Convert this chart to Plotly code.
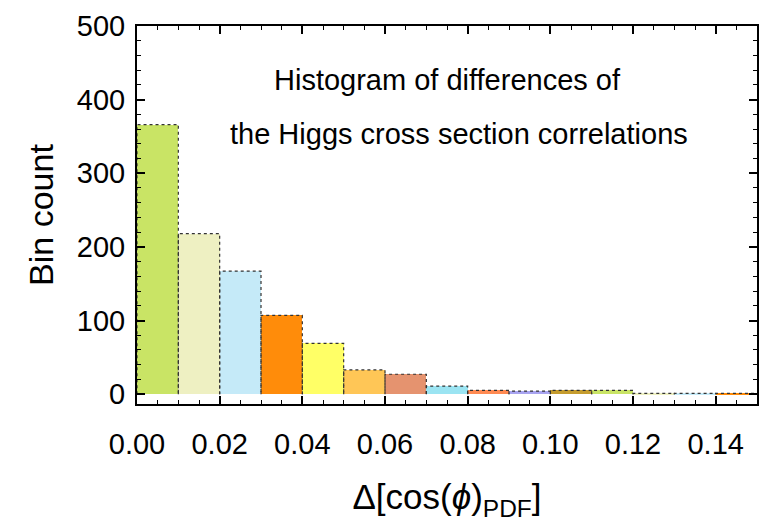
import plotly.graph_objects as go

# Data
bin_edges = [0.00, 0.01, 0.02, 0.03, 0.04, 0.05, 0.06, 0.07, 0.08, 0.09,
             0.10, 0.11, 0.12, 0.13, 0.14, 0.15]
counts = [366, 218, 167, 107, 69, 33, 27, 11, 5, 4, 5, 5, 1, 1, 1]
bar_colors = ["#c9e465", "#eef0c2", "#c5eaf8", "#ff8c0a", "#ffff66", "#ffc656",
              "#e5936f", "#9be4f2", "#ff8a52", "#a8a4f0", "#c59c2e",
              "#c9e465", "#eef0c2", "#c5eaf8", "#ff8c0a"]
x_ticks = [0.00, 0.02, 0.04, 0.06, 0.08, 0.10, 0.12, 0.14]
x_tick_text = ["0.00", "0.02", "0.04", "0.06", "0.08", "0.10", "0.12", "0.14"]
y_ticks = [0, 100, 200, 300, 400, 500]

centers = [(a + b) / 2 for a, b in zip(bin_edges[:-1], bin_edges[1:])]
widths = [b - a for a, b in zip(bin_edges[:-1], bin_edges[1:])]

fig = go.Figure()
fig.add_trace(go.Bar(x=centers, y=counts, width=widths,
                     marker=dict(color=bar_colors, line=dict(width=0)),
                     showlegend=False, hoverinfo="x+y"))

# dotted outlines of each bar
ox, oy = [], []
for a, b, c in zip(bin_edges[:-1], bin_edges[1:], counts):
    ox += [a, a, b, b, None]
    oy += [0, c, c, 0, None]
fig.add_trace(go.Scatter(x=ox, y=oy, mode="lines",
                         line=dict(color="#333333", width=1.2, dash="dot"),
                         showlegend=False, hoverinfo="skip"))

font = "Liberation Sans, Arial, Helvetica, sans-serif"
fig.update_layout(
    width=769, height=525,
    margin=dict(l=137, r=10, t=20, b=121),
    paper_bgcolor="white", plot_bgcolor="white",
    font=dict(family=font, color="black"),
    bargap=0,
    xaxis=dict(range=[0, 0.15], tickvals=x_ticks, ticktext=x_tick_text,
               ticks="inside", ticklen=8, tickwidth=1.5, tickcolor="black",
               minor=dict(dtick=0.005, tick0=0, ticks="inside", ticklen=4,
                          tickwidth=1.2, tickcolor="black"),
               showline=True, linecolor="black", linewidth=2, mirror="allticks",
               showgrid=False, zeroline=False,
               tickfont=dict(size=29), ticklabelstandoff=13,
               title=dict(text="Δ[cos(<i>ϕ</i>)<sub>PDF</sub>]",
                          font=dict(size=35), standoff=26)),
    yaxis=dict(range=[-13.4, 500], tickvals=y_ticks,
               ticks="inside", ticklen=8, tickwidth=1.5, tickcolor="black",
               minor=dict(dtick=20, tick0=0, ticks="inside", ticklen=4,
                          tickwidth=1.2, tickcolor="black"),
               showline=True, linecolor="black", linewidth=2, mirror="allticks",
               showgrid=False, zeroline=False,
               tickfont=dict(size=29), ticklabelstandoff=4,
               title=dict(text="Bin count", font=dict(size=34), standoff=13)),
    annotations=[
        dict(text="Histogram of differences of", xref="paper", yref="paper",
             x=(449 - 137) / (759 - 137), y=1 - (75 - 20) / (404 - 20),
             showarrow=False, font=dict(size=29), xanchor="center", yanchor="middle"),
        dict(text="the Higgs cross section correlations", xref="paper", yref="paper",
             x=(460 - 137) / (759 - 137), y=1 - (130 - 20) / (404 - 20),
             showarrow=False, font=dict(size=29), xanchor="center", yanchor="middle"),
    ],
)

fig.write_html("out.html")
